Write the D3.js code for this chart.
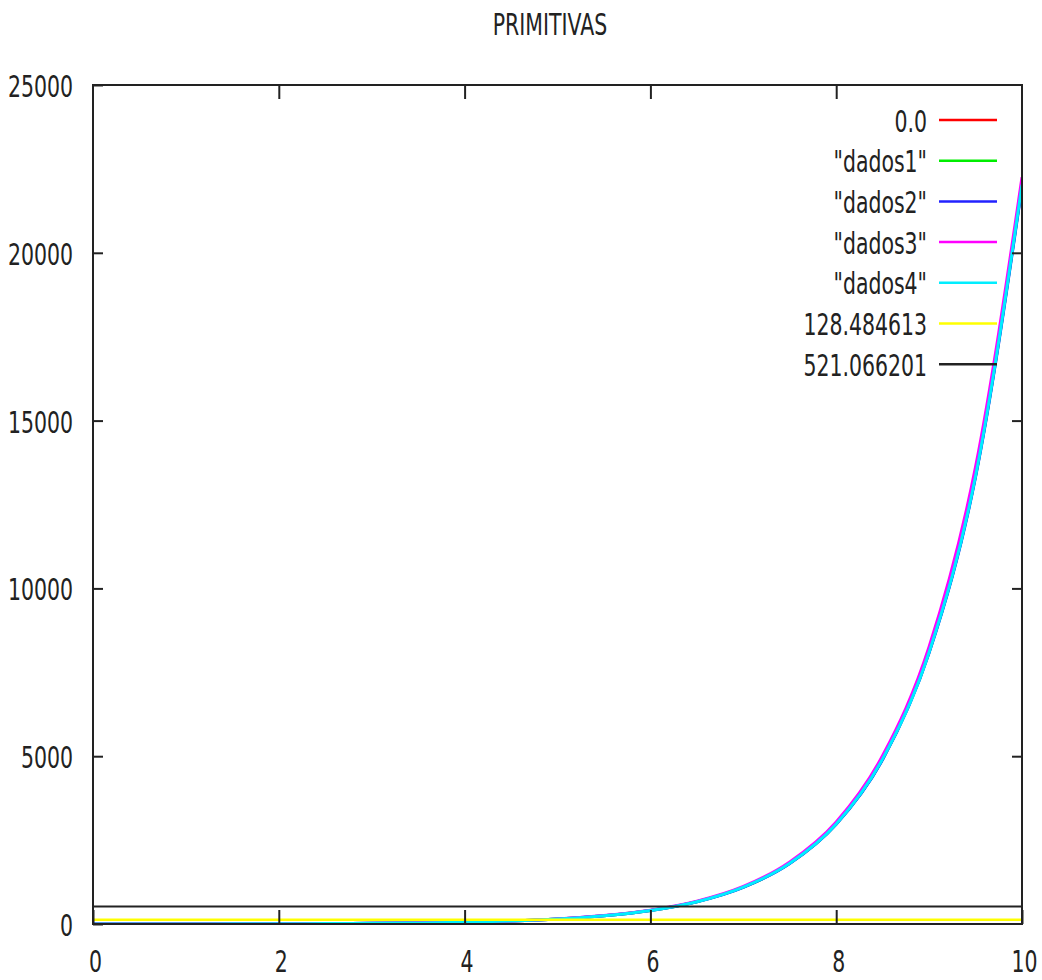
<!DOCTYPE html>
<html>
<head>
<meta charset="utf-8">
<script src="https://cdn.jsdelivr.net/npm/d3@7"></script>
<style>
  body { margin: 0; background: #fff; }
  text { font-family: "DejaVu Sans", sans-serif; font-size: 31px; fill: #222; }
</style>
</head>
<body>
<svg id="chart" width="1042" height="980"></svg>
<script>
// valores
const xs = [0, 0.5, 1, 1.5, 2, 2.5, 3, 3.5, 4, 4.5, 5, 5.5, 6, 6.5, 7, 7.5, 8, 8.5, 9, 9.5, 10];
const dados1 = [0, 0.6, 1.7, 3.5, 6.4, 11, 19, 32, 54, 89, 147, 244, 402, 664, 1096, 1807, 2980, 4914, 8102, 13359, 22025];
const dados2 = [1, 1.6, 2.7, 4.4, 7.3, 12, 20, 33, 54, 89, 147, 243, 401, 662, 1092, 1800, 2970, 4900, 8080, 13320, 21970];
const dados3 = [1, 1.7, 2.8, 4.6, 7.6, 12.4, 20.5, 34, 56, 92, 151, 250, 413, 680, 1120, 1850, 3040, 5020, 8260, 13620, 22250];
const dados4 = [1, 1.6, 2.7, 4.5, 7.4, 12, 20, 33, 55, 90, 148, 245, 405, 665, 1100, 1810, 2980, 4920, 8100, 13350, 22030];
const xTicks = [0, 2, 4, 6, 8, 10];
const yTicks = [0, 5000, 10000, 15000, 20000, 25000];
const legendLabels = ["0.0", "\"dados1\"", "\"dados2\"", "\"dados3\"", "\"dados4\"", "128.484613", "521.066201"];
const constantes = [0.0, 128.484613, 521.066201];

const svg = d3.select("#chart");
const mLeft = 93, mRight = 1022, mTop = 85, mBottom = 924;
const sx = 0.66; // texto estreito

const x = d3.scaleLinear().domain([0, 10]).range([mLeft, mRight]);
const y = d3.scaleLinear().domain([0, 25000]).range([mBottom, mTop]);

svg.append("defs").append("clipPath").attr("id", "area")
  .append("rect").attr("x", mLeft).attr("y", mTop).attr("width", mRight - mLeft).attr("height", mBottom - mTop);

// titulo
svg.append("text")
  .attr("transform", `translate(550,35) scale(${sx},1)`)
  .attr("text-anchor", "middle")
  .text("PRIMITIVAS");

const plot = svg.append("g").attr("clip-path", "url(#area)");

const line = d3.line()
  .x((d, i) => x(xs[i]))
  .y(d => y(d))
  .curve(d3.curveMonotoneX);

// ordem do gnuplot
const series = [
  { vals: xs.map(() => constantes[0]), color: "#ff0000", w: 2 },
  { vals: dados1, color: "#00ee00", w: 3 },
  { vals: dados2, color: "#2222ff", w: 3 },
  { vals: dados3, color: "#ff00ff", w: 3 },
  { vals: dados4, color: "#00eeff", w: 3 },
  { vals: xs.map(() => constantes[1]), color: "#ffff00", w: 2.5 },
  { vals: xs.map(() => constantes[2]), color: "#222222", w: 2 }
];

plot.selectAll(".serie")
  .data(series)
  .enter()
  .append("path")
  .attr("class", "serie")
  .attr("fill", "none")
  .attr("stroke", d => d.color)
  .attr("stroke-width", d => d.w)
  .attr("d", d => line(d.vals));

// eixos com ticks para dentro
const gl = svg.append("g").attr("transform", `translate(${mLeft},0)`)
  .call(d3.axisLeft(y).tickValues(yTicks).tickFormat(d3.format("d")).tickSize(-10).tickSizeOuter(0));
gl.selectAll("text")
  .attr("x", null).attr("dy", null)
  .attr("transform", `translate(-20,11.5) scale(${sx},1)`)
  .attr("text-anchor", "end");

const gb = svg.append("g").attr("transform", `translate(0,${mBottom})`)
  .call(d3.axisBottom(x).tickValues(xTicks).tickSize(-14).tickSizeOuter(0));
gb.selectAll("text")
  .attr("y", null).attr("dy", null)
  .attr("transform", `translate(2,48) scale(${sx},1)`)
  .attr("text-anchor", "middle");

svg.append("g").attr("transform", `translate(${mRight},0)`)
  .call(d3.axisRight(y).tickValues(yTicks.slice(1, -1)).tickSize(-10).tickSizeOuter(0).tickFormat(""));
svg.append("g").attr("transform", `translate(0,${mTop})`)
  .call(d3.axisTop(x).tickValues(xTicks.slice(1, -1)).tickSize(-14).tickSizeOuter(0).tickFormat(""));

svg.selectAll(".tick line").attr("stroke", "#222").attr("stroke-width", 2);
svg.selectAll(".domain").remove();
svg.selectAll(".tick text").attr("fill", "#222");
svg.selectAll("g").filter(function () { return this.getAttribute("font-size"); })
  .attr("font-size", null).attr("font-family", null);

svg.append("rect")
  .attr("x", mLeft).attr("y", mTop)
  .attr("width", mRight - mLeft).attr("height", mBottom - mTop)
  .attr("fill", "none").attr("stroke", "#222").attr("stroke-width", 2);

// legenda
const leg = svg.selectAll(".leg")
  .data(series)
  .enter()
  .append("g")
  .attr("class", "leg")
  .attr("transform", (d, i) => `translate(0,${120 + i * 40.7})`);

leg.append("text")
  .attr("transform", `translate(927,11.5) scale(${sx},1)`)
  .attr("text-anchor", "end")
  .text((d, i) => legendLabels[i]);

leg.append("line")
  .attr("x1", 939).attr("x2", 997)
  .attr("stroke", d => d.color)
  .attr("stroke-width", 2.5);
</script>
</body>
</html>
